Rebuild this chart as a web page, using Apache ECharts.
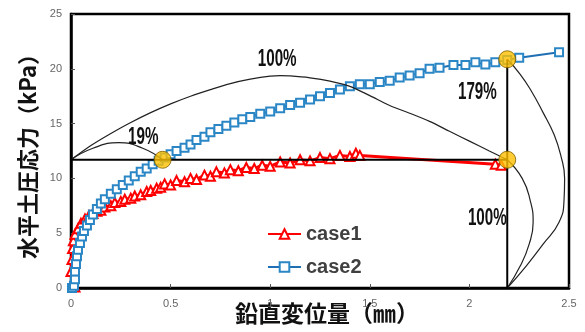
<!DOCTYPE html>
<html><head><meta charset="utf-8">
<script src="https://cdn.jsdelivr.net/npm/echarts@6/dist/echarts.min.js"></script>
<style>html,body{margin:0;padding:0;background:#fff}#c{width:585px;height:332px}</style>
</head><body><div id="c"></div>
<script>
// ---- data ----
const xTicks = [0, 0.5, 1, 1.5, 2, 2.5];
const yTicks = [0, 5, 10, 15, 20, 25];
const seriesNames = ['case1', 'case2'];

const case1X = [0.02,0.0,0.005,0.008,0.012,0.02,0.035,0.05,0.07,0.09,0.11,0.13,0.15,0.17,0.2,0.22,0.25,0.27,0.3,0.32,0.35,0.38,0.4,0.43,0.45,0.47,0.5,0.53,0.57,0.6,0.63,0.67,0.7,0.73,0.77,0.8,0.84,0.88,0.92,0.96,1.0,1.05,1.1,1.15,1.2,1.25,1.3,1.35,1.4,1.43,1.45,2.13,2.16];
const case1Y = [0.1,1.5,2.6,3.6,4.3,4.9,5.4,5.9,6.3,6.6,6.8,7.0,7.1,7.4,7.5,7.8,7.9,8.1,8.2,8.4,8.5,8.8,8.9,9.1,9.2,9.5,9.4,9.8,9.7,10.0,9.9,10.3,10.2,10.6,10.5,10.8,10.7,11.0,10.9,11.2,11.1,11.5,11.4,11.7,11.6,11.9,11.8,12.1,12.0,12.3,12.1,11.3,11.2];

const case2X = [0.005,0.015,0.02,0.02,0.025,0.03,0.035,0.045,0.055,0.065,0.08,0.095,0.11,0.13,0.15,0.17,0.2,0.23,0.26,0.29,0.32,0.35,0.38,0.41,0.44,0.47,0.5,0.53,0.57,0.6,0.63,0.67,0.7,0.74,0.78,0.82,0.86,0.9,0.95,1.0,1.05,1.1,1.15,1.2,1.25,1.3,1.35,1.4,1.45,1.5,1.55,1.6,1.65,1.7,1.75,1.8,1.85,1.92,1.98,2.03,2.08,2.13,2.19,2.25,2.45];
const case2Y = [0.0,0.2,0.8,1.5,2.2,2.9,3.5,4.1,4.7,5.2,5.7,6.2,6.7,7.2,7.7,8.1,8.6,9.0,9.4,9.8,10.2,10.6,10.9,11.3,11.6,11.9,12.2,12.5,12.8,13.1,13.5,13.8,14.2,14.5,14.8,15.1,15.4,15.6,15.9,16.1,16.4,16.7,16.9,17.2,17.5,17.8,18.1,18.4,18.6,18.6,18.8,18.9,19.2,19.4,19.6,20.0,20.1,20.35,20.35,20.6,20.4,20.6,20.8,21.0,21.5];

// annotation (earth-pressure distribution) curves
const arc100X = [0,0.1,0.2,0.3,0.4,0.5,0.6,0.7,0.8,0.9,1.0,1.05,1.1,1.2,1.3,1.4,1.5,1.6,1.7,1.8,1.9,2.0,2.1,2.19];
const arc100Y = [11.7,13.0,14.1,15.1,16.0,16.8,17.5,18.1,18.65,19.05,19.33,19.37,19.35,19.18,18.88,18.4,17.55,16.65,15.95,15.2,14.3,13.4,12.5,11.7];
const arc19X = [0,0.11,0.24,0.36,0.46];
const arc19Y = [11.7,12.75,13.26,12.75,11.7];
const curve179X = [2.19,2.255,2.31,2.37,2.425,2.46,2.478,2.475,2.45,2.37,2.285,2.19];
const curve179Y = [20.87,19.5,18.0,16.0,14.0,12.0,10.0,8.0,6.0,4.0,2.0,0];
const curveR100X = [2.19,2.265,2.305,2.32,2.30,2.255,2.19];
const curveR100Y = [11.7,10.0,8.0,6.0,4.0,2.0,0];
const hLineX = [0, 2.19];
const hLineY = [11.7, 11.7];
const vLineX = [2.19, 2.19];
const vLineY = [0, 20.87];
const circleX = [0.46, 2.19, 2.19];
const circleY = [11.7, 11.7, 20.87];
const annoText = ['100%', '19%', '179%', '100%'];
const annoX = [1.035, 0.363, 2.04, 2.09];
const annoY = [20.8, 13.7, 17.8, 6.3];

// ---- build ----
const zip = (xs, ys) => xs.map((x, i) => [x, ys[i]]);
const chart = echarts.init(document.getElementById('c'), null, {renderer: 'canvas'});
const tickFont = {color: '#666', fontSize: 11, fontFamily: 'Liberation Sans, Arial, sans-serif'};
const annoLine = (xs, ys, s) => ({
  type: 'line', data: zip(xs, ys), smooth: s, symbol: 'none', silent: true, z: 5,
  lineStyle: {color: '#222', width: 1.2}, animation: false
});
const straight = (xs, ys) => ({
  type: 'line', data: zip(xs, ys), symbol: 'none', silent: true, z: 5,
  lineStyle: {color: '#000', width: 2}, animation: false
});

chart.setOption({
  animation: false,
  backgroundColor: '#fff',
  grid: {left: 71, right: 16, top: 14, bottom: 44, outerBoundsMode: 'none', containLabel: false,
    show: true, borderColor: '#000', borderWidth: 2.5, backgroundColor: 'transparent'},
  xAxis: {
    type: 'value', min: 0, max: 2.5, interval: 0.5,
    name: '鉛直変位量（㎜）', nameLocation: 'middle', nameGap: 14, nameMoveOverlap: false,
    nameTextStyle: {fontSize: 23, fontWeight: 'bold', color: '#111', fontFamily: 'Noto Sans CJK JP, sans-serif', verticalAlign: 'top', padding: [0, 0, 0, 14]},
    axisLine: {show: true, lineStyle: {color: '#000', width: 2.5}},
    axisTick: {show: true, inside: true, length: 4, lineStyle: {color: '#555'}},
    axisLabel: Object.assign({margin: 10, formatter: v => String(v)}, tickFont),
    splitLine: {show: false}
  },
  yAxis: {
    type: 'value', min: 0, max: 25, interval: 5,
    name: '水平土圧応力（kPa）', nameLocation: 'middle', nameGap: 32, nameRotate: 90, nameMoveOverlap: false,
    nameTextStyle: {fontSize: 22, fontWeight: 'bold', color: '#111', fontFamily: 'Noto Sans CJK JP, sans-serif'},
    axisLine: {show: true, lineStyle: {color: '#000', width: 2.5}},
    axisTick: {show: true, inside: true, length: 4, lineStyle: {color: '#555'}},
    axisLabel: Object.assign({margin: 9}, tickFont),
    splitLine: {show: false}
  },
  legend: {
    data: seriesNames, orient: 'vertical', left: 262, top: 219,
    itemWidth: 33, itemHeight: 12, itemGap: 13,
    textStyle: {fontSize: 20, fontWeight: 'bold', color: '#404040', fontFamily: 'Liberation Sans, Arial, sans-serif'}
  },
  series: [
    {
      name: seriesNames[0], type: 'line', data: zip(case1X, case1Y), z: 3,
      symbol: 'emptyTriangle', symbolSize: 9,
      lineStyle: {color: '#ff0000', width: 3}, itemStyle: {color: '#ff0000', borderWidth: 1.2}
    },
    {
      name: seriesNames[1], type: 'line', data: zip(case2X, case2Y), z: 4,
      symbol: 'emptyRect', symbolSize: 8,
      lineStyle: {color: '#1f6fb5', width: 2}, itemStyle: {color: '#2b86c5', borderWidth: 1.2}
    },
    annoLine(arc100X, arc100Y, 0.3),
    annoLine(arc19X, arc19Y, 0.5),
    annoLine(curve179X, curve179Y, 0.5),
    annoLine(curveR100X, curveR100Y, 0.5),
    straight(hLineX, hLineY),
    straight(vLineX, vLineY),
    {
      type: 'scatter', data: zip(circleX, circleY), symbol: 'circle', symbolSize: 17, z: 8, silent: true,
      itemStyle: {color: '#FFC000', borderColor: '#7a5c00', borderWidth: 1}
    }
  ]
});

// condensed percentage labels, placed through the chart's own coordinate system
const texts = annoText.map((t, i) => {
  const p = chart.convertToPixel({gridIndex: 0}, [annoX[i], annoY[i]]);
  return {
    type: 'text', x: p[0], y: p[1], scaleX: 0.66, z: 100, silent: true,
    style: {text: t, fill: '#111', fontSize: 23, fontWeight: 'bold', fontFamily: 'Liberation Sans, Arial, sans-serif',
      textAlign: 'center', textVerticalAlign: 'middle'}
  };
});
chart.setOption({graphic: texts});
</script></body></html>
